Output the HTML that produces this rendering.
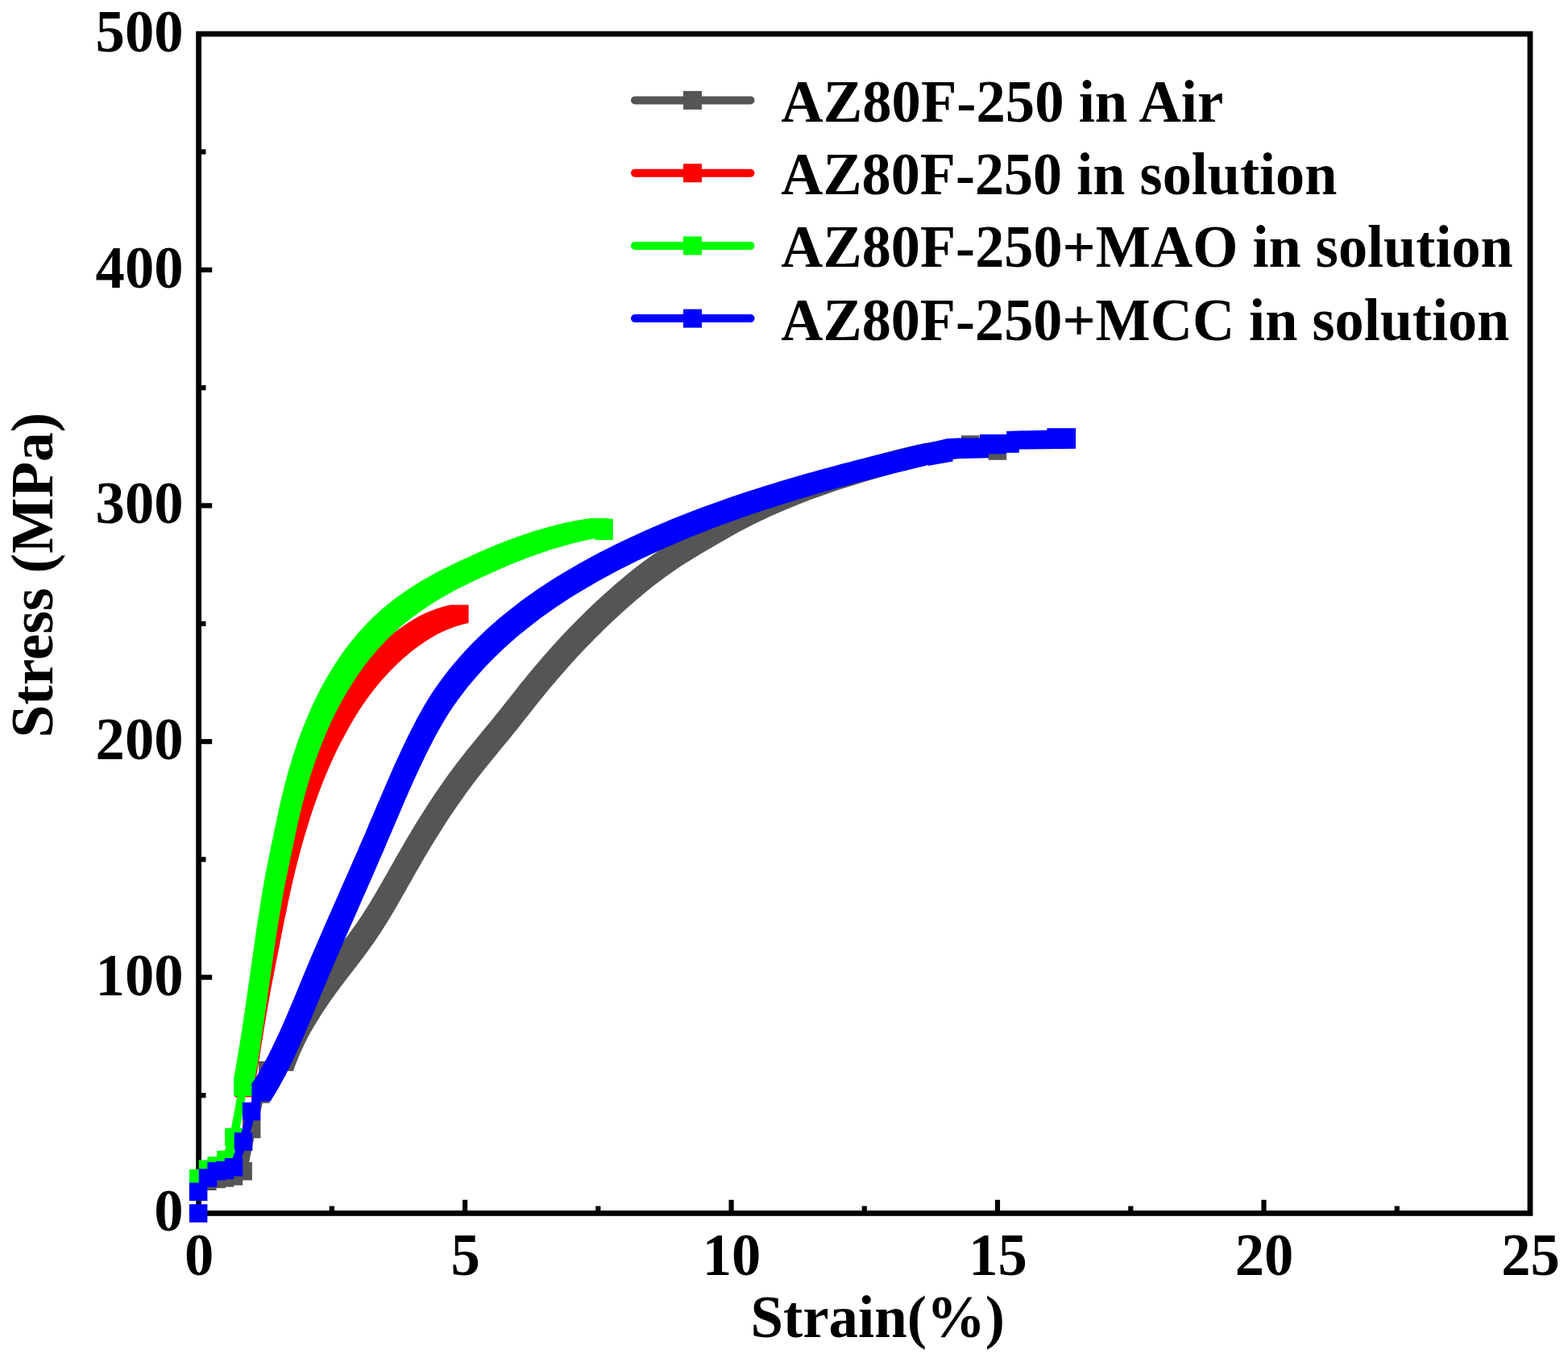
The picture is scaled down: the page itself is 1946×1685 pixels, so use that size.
<!DOCTYPE html>
<html lang="en"><head><meta charset="utf-8"><title>Stress-strain curves of AZ80F-250</title>
<style>
html,body{margin:0;padding:0;background:#fff}
body{width:1946px;height:1685px;overflow:hidden}
svg{display:block}
text{font-family:"Liberation Serif","DejaVu Serif",serif;font-weight:bold;fill:#000}
.ax{stroke:#000;fill:none}
</style></head><body>
<svg width="1946" height="1685" viewBox="0 0 1946 1685" role="img" aria-label="Stress-strain curves">
<rect width="1946" height="1685" fill="#fff"/>
<g class="ax" stroke-width="6.2">
<path d="M411.8,1502v-5.5M577.1,1502v-13.2M742.3,1502v-5.5M907.6,1502v-13.2M1072.8,1502v-5.5M1238,1502v-13.2M1403.3,1502v-5.5M1568.5,1502v-13.2M1733.8,1502v-5.5M250,1359.1h5.5M250,1212.7h13.2M250,1066.4h5.5M250,920.1h13.2M250,773.8h5.5M250,627.4h13.2M250,481.1h5.5M250,334.8h13.2M250,188.4h5.5"/>
</g>
<rect class="ax" x="246.6" y="42.1" width="1652.4" height="1463.3" stroke-width="6.8"/>
<g fill="#555555" stroke="none">
<path d="M341.5,1329.1L341.5,1306.6L344,1299.3L366.5,1299.3L366.5,1321.8L364,1329.1ZM344,1321.8L344,1299.3L346.8,1292.2L369.3,1292.2L369.3,1314.7L366.5,1321.8ZM346.8,1314.7L346.8,1292.2L349.8,1285.1L372.3,1285.1L372.3,1307.6L369.3,1314.7ZM349.8,1307.6L349.8,1285.1L352.9,1278.2L375.4,1278.2L375.4,1300.7L372.3,1307.6ZM352.9,1300.7L352.9,1278.2L356.2,1271.3L378.7,1271.3L378.7,1293.8L375.4,1300.7ZM356.2,1293.8L356.2,1271.3L359.6,1264.6L382.1,1264.6L382.1,1287.1L378.7,1293.8ZM359.6,1287.1L359.6,1264.6L363.2,1257.9L385.7,1257.9L385.7,1280.4L382.1,1287.1ZM363.2,1280.4L363.2,1257.9L367,1251.4L389.5,1251.4L389.5,1273.9L385.7,1280.4ZM367,1273.9L367,1251.4L370.9,1244.9L393.4,1244.9L393.4,1267.4L389.5,1273.9ZM370.9,1267.4L370.9,1244.9L374.9,1238.5L397.4,1238.5L397.4,1261L393.4,1267.4ZM374.9,1261L374.9,1238.5L379,1232.1L401.5,1232.1L401.5,1254.6L397.4,1261ZM379,1254.6L379,1232.1L383.2,1225.8L405.7,1225.8L405.7,1248.3L401.5,1254.6ZM383.2,1248.3L383.2,1225.8L387.5,1219.6L410,1219.6L410,1242.1L405.7,1248.3ZM387.5,1242.1L387.5,1219.6L391.8,1213.5L414.3,1213.5L414.3,1236L410,1242.1ZM391.8,1236L391.8,1213.5L396.3,1207.3L418.8,1207.3L418.8,1229.8L414.3,1236ZM396.3,1229.8L396.3,1207.3L400.8,1201.3L423.3,1201.3L423.3,1223.8L418.8,1229.8ZM400.8,1223.8L400.8,1201.3L405.3,1195.3L427.8,1195.3L427.8,1217.8L423.3,1223.8ZM405.3,1217.8L405.3,1195.3L409.9,1189.3L432.4,1189.3L432.4,1211.8L427.8,1217.8ZM409.9,1211.8L409.9,1189.3L414.6,1183.3L437.1,1183.3L437.1,1205.8L432.4,1211.8ZM414.6,1205.8L414.6,1183.3L419.2,1177.3L441.7,1177.3L441.7,1199.8L437.1,1205.8ZM419.2,1199.8L419.2,1177.3L423.8,1171.3L446.3,1171.3L446.3,1193.8L441.7,1199.8ZM423.8,1193.8L423.8,1171.3L428.3,1165.3L450.8,1165.3L450.8,1187.8L446.3,1193.8ZM428.3,1187.8L428.3,1165.3L432.8,1159.3L455.3,1159.3L455.3,1181.8L450.8,1187.8ZM432.8,1181.8L432.8,1159.3L437.2,1153.1L459.7,1153.1L459.7,1175.6L455.3,1181.8ZM437.2,1175.6L437.2,1153.1L441.6,1147L464.1,1147L464.1,1169.5L459.7,1175.6ZM441.6,1169.5L441.6,1147L445.8,1140.7L468.3,1140.7L468.3,1163.2L464.1,1169.5ZM445.8,1163.2L445.8,1140.7L450,1134.4L472.5,1134.4L472.5,1156.9L468.3,1163.2ZM450,1156.9L450,1134.4L454.1,1128.1L476.6,1128.1L476.6,1150.6L472.5,1156.9ZM454.1,1150.6L454.1,1128.1L458.1,1121.7L480.6,1121.7L480.6,1144.2L476.6,1150.6ZM458.1,1144.2L458.1,1121.7L462,1115.2L484.5,1115.2L484.5,1137.7L480.6,1144.2ZM462,1137.7L462,1115.2L465.9,1108.7L488.4,1108.7L488.4,1131.2L484.5,1137.7ZM465.9,1131.2L465.9,1108.7L469.7,1102.2L492.2,1102.2L492.2,1124.7L488.4,1131.2ZM469.7,1124.7L469.7,1102.2L473.5,1095.6L496,1095.6L496,1118.1L492.2,1124.7ZM473.5,1118.1L473.5,1095.6L477.2,1089L499.7,1089L499.7,1111.5L496,1118.1ZM477.2,1111.5L477.2,1089L481,1082.4L503.5,1082.4L503.5,1104.9L499.7,1111.5ZM481,1104.9L481,1082.4L484.7,1075.8L507.2,1075.8L507.2,1098.3L503.5,1104.9ZM484.7,1098.3L484.7,1075.8L488.5,1069.2L511,1069.2L511,1091.7L507.2,1098.3ZM488.5,1091.7L488.5,1069.2L492.2,1062.6L514.7,1062.6L514.7,1085.1L511,1091.7ZM492.2,1085.1L492.2,1062.6L496,1056L518.5,1056L518.5,1078.5L514.7,1085.1ZM496,1078.5L496,1056L499.8,1049.4L522.3,1049.4L522.3,1071.9L518.5,1078.5ZM499.8,1071.9L499.8,1049.4L503.6,1042.8L526.1,1042.8L526.1,1065.3L522.3,1071.9ZM503.6,1065.3L503.6,1042.8L507.5,1036.3L530,1036.3L530,1058.8L526.1,1065.3ZM507.5,1058.8L507.5,1036.3L511.4,1029.8L533.9,1029.8L533.9,1052.3L530,1058.8ZM511.4,1052.3L511.4,1029.8L515.3,1023.3L537.8,1023.3L537.8,1045.8L533.9,1052.3ZM515.3,1045.8L515.3,1023.3L519.3,1016.8L541.8,1016.8L541.8,1039.3L537.8,1045.8ZM519.3,1039.3L519.3,1016.8L523.3,1010.4L545.8,1010.4L545.8,1032.9L541.8,1039.3ZM523.3,1032.9L523.3,1010.4L527.4,1004L549.9,1004L549.9,1026.5L545.8,1032.9ZM527.4,1026.5L527.4,1004L531.5,997.6L554,997.6L554,1020.1L549.9,1026.5ZM531.5,1020.1L531.5,997.6L535.6,991.2L558.1,991.2L558.1,1013.7L554,1020.1ZM535.6,1013.7L535.6,991.2L539.8,984.9L562.3,984.9L562.3,1007.4L558.1,1013.7ZM539.8,1007.4L539.8,984.9L544.1,978.7L566.6,978.7L566.6,1001.2L562.3,1007.4ZM544.1,1001.2L544.1,978.7L548.4,972.4L570.9,972.4L570.9,994.9L566.6,1001.2ZM548.4,994.9L548.4,972.4L552.8,966.2L575.3,966.2L575.3,988.7L570.9,994.9ZM552.8,988.7L552.8,966.2L557.2,960.1L579.7,960.1L579.7,982.6L575.3,988.7ZM557.2,982.6L557.2,960.1L561.7,954L584.2,954L584.2,976.5L579.7,982.6ZM561.7,976.5L561.7,954L566.2,947.9L588.7,947.9L588.7,970.4L584.2,976.5ZM566.2,970.4L566.2,947.9L570.8,941.9L593.3,941.9L593.3,964.4L588.7,970.4ZM570.8,964.4L570.8,941.9L575.5,936L598,936L598,958.5L593.3,964.4ZM575.5,958.5L575.5,936L580.2,930.1L602.7,930.1L602.7,952.6L598,958.5ZM580.2,952.6L580.2,930.1L585,924.2L607.5,924.2L607.5,946.7L602.7,952.6ZM585,946.7L585,924.2L589.8,918.3L612.3,918.3L612.3,940.8L607.5,946.7ZM589.8,940.8L589.8,918.3L594.6,912.4L617.1,912.4L617.1,934.9L612.3,940.8ZM594.6,934.9L594.6,912.4L599.4,906.6L621.9,906.6L621.9,929.1L617.1,934.9ZM599.4,929.1L599.4,906.6L604.2,900.8L626.7,900.8L626.7,923.3L621.9,929.1ZM604.2,923.3L604.2,900.8L609,894.9L631.5,894.9L631.5,917.4L626.7,923.3ZM609,917.4L609,894.9L613.8,889.1L636.3,889.1L636.3,911.6L631.5,917.4ZM613.8,911.6L613.8,889.1L618.5,883.2L641,883.2L641,905.7L636.3,911.6ZM618.5,905.7L618.5,883.2L623.3,877.2L645.8,877.2L645.8,899.7L641,905.7ZM623.3,899.7L623.3,877.2L627.9,871.3L650.4,871.3L650.4,893.8L645.8,899.7ZM627.9,893.8L627.9,871.3L632.6,865.4L655.1,865.4L655.1,887.9L650.4,893.8ZM632.6,887.9L632.6,865.4L637.3,859.4L659.8,859.4L659.8,881.9L655.1,887.9ZM637.3,881.9L637.3,859.4L642,853.5L664.5,853.5L664.5,876L659.8,881.9ZM642,876L642,853.5L646.7,847.6L669.2,847.6L669.2,870.1L664.5,876ZM646.7,870.1L646.7,847.6L651.5,841.7L674,841.7L674,864.2L669.2,870.1ZM651.5,864.2L651.5,841.7L656.3,835.8L678.8,835.8L678.8,858.3L674,864.2ZM656.3,858.3L656.3,835.8L661.1,830L683.6,830L683.6,852.5L678.8,858.3ZM661.1,852.5L661.1,830L666,824.2L688.5,824.2L688.5,846.7L683.6,852.5ZM666,846.7L666,824.2L670.9,818.4L693.4,818.4L693.4,840.9L688.5,846.7ZM670.9,840.9L670.9,818.4L675.9,812.7L698.4,812.7L698.4,835.2L693.4,840.9ZM675.9,835.2L675.9,812.7L681,807L703.5,807L703.5,829.5L698.4,835.2ZM681,829.5L681,807L686,801.3L708.5,801.3L708.5,823.8L703.5,829.5ZM686,823.8L686,801.3L691.1,795.7L713.6,795.7L713.6,818.2L708.5,823.8ZM691.1,818.2L691.1,795.7L696.3,790.1L718.8,790.1L718.8,812.6L713.6,818.2ZM696.3,812.6L696.3,790.1L701.5,784.6L724,784.6L724,807.1L718.8,812.6ZM701.5,807.1L701.5,784.6L706.8,779.1L729.3,779.1L729.3,801.6L724,807.1ZM706.8,801.6L706.8,779.1L712.1,773.7L734.6,773.7L734.6,796.2L729.3,801.6ZM712.1,796.2L712.1,773.7L717.4,768.3L739.9,768.3L739.9,790.8L734.6,796.2ZM717.4,790.8L717.4,768.3L722.8,762.9L745.3,762.9L745.3,785.4L739.9,790.8ZM722.8,785.4L722.8,762.9L728.2,757.6L750.7,757.6L750.7,780.1L745.3,785.4ZM728.2,780.1L728.2,757.6L733.7,752.3L756.2,752.3L756.2,774.8L750.7,780.1ZM733.7,774.8L733.7,752.3L739.2,747.1L761.7,747.1L761.7,769.6L756.2,774.8ZM739.2,769.6L739.2,747.1L744.8,741.9L767.3,741.9L767.3,764.4L761.7,769.6ZM744.8,764.4L744.8,741.9L750.4,736.8L772.9,736.8L772.9,759.3L767.3,764.4ZM750.4,759.3L750.4,736.8L756.1,731.8L778.6,731.8L778.6,754.3L772.9,759.3ZM756.1,754.3L756.1,731.8L761.7,726.7L784.2,726.7L784.2,749.2L778.6,754.3ZM761.7,749.2L761.7,726.7L767.5,721.8L790,721.8L790,744.3L784.2,749.2ZM767.5,744.3L767.5,721.8L773.3,716.9L795.8,716.9L795.8,739.4L790,744.3ZM773.3,739.4L773.3,716.9L779.1,712.1L801.6,712.1L801.6,734.6L795.8,739.4ZM779.1,734.6L779.1,712.1L785,707.3L807.5,707.3L807.5,729.8L801.6,734.6ZM785,729.8L785,707.3L791,702.6L813.5,702.6L813.5,725.1L807.5,729.8ZM791,725.1L791,702.6L797,698.1L819.5,698.1L819.5,720.6L813.5,725.1ZM797,720.6L797,698.1L803.1,693.6L825.6,693.6L825.6,716.1L819.5,720.6ZM803.1,716.1L803.1,693.6L809.2,689.2L831.7,689.2L831.7,711.7L825.6,716.1ZM809.2,711.7L809.2,689.2L815.5,684.8L838,684.8L838,707.3L831.7,711.7ZM815.5,707.3L815.5,684.8L821.7,680.6L844.2,680.6L844.2,703.1L838,707.3ZM821.7,703.1L821.7,680.6L828.1,676.5L850.6,676.5L850.6,699L844.2,703.1ZM828.1,699L828.1,676.5L834.5,672.5L857,672.5L857,695L850.6,699ZM834.5,695L834.5,672.5L841,668.5L863.5,668.5L863.5,691L857,695ZM841,691L841,668.5L847.5,664.6L870,664.6L870,687.1L863.5,691ZM847.5,687.1L847.5,664.6L854,660.7L876.5,660.7L876.5,683.2L870,687.1ZM854,683.2L854,660.7L860.6,656.9L883.1,656.9L883.1,679.4L876.5,683.2ZM860.6,679.4L860.6,656.9L867.2,653.1L889.7,653.1L889.7,675.6L883.1,679.4ZM867.2,675.6L867.2,653.1L873.8,649.3L896.3,649.3L896.3,671.8L889.7,675.6ZM873.8,671.8L873.8,649.3L880.4,645.5L902.9,645.5L902.9,668L896.3,671.8ZM880.4,668L880.4,645.5L887,641.8L909.5,641.8L909.5,664.3L902.9,668ZM887,664.3L887,641.8L893.7,638.1L916.2,638.1L916.2,660.6L909.5,664.3ZM893.7,660.6L893.7,638.1L900.4,634.6L922.9,634.6L922.9,657.1L916.2,660.6ZM900.4,657.1L900.4,634.6L907.1,631L929.6,631L929.6,653.5L922.9,657.1ZM907.1,653.5L907.1,631L913.9,627.6L936.4,627.6L936.4,650.1L929.6,653.5ZM913.9,650.1L913.9,627.6L920.7,624.3L943.2,624.3L943.2,646.8L936.4,650.1ZM920.7,646.8L920.7,624.3L927.6,621L950.1,621L950.1,643.5L943.2,646.8ZM927.6,643.5L927.6,621L934.4,617.8L956.9,617.8L956.9,640.3L950.1,643.5ZM934.4,640.3L934.4,617.8L941.4,614.7L963.9,614.7L963.9,637.2L956.9,640.3ZM941.4,637.2L941.4,614.7L948.3,611.7L970.8,611.7L970.8,634.2L963.9,637.2ZM948.3,634.2L948.3,611.7L955.3,608.7L977.8,608.7L977.8,631.2L970.8,634.2ZM955.3,631.2L955.3,608.7L962.3,605.9L984.8,605.9L984.8,628.4L977.8,631.2ZM962.3,628.4L962.3,605.9L969.3,603.1L991.8,603.1L991.8,625.6L984.8,628.4ZM969.3,625.6L969.3,603.1L976.4,600.3L998.9,600.3L998.9,622.8L991.8,625.6ZM976.4,622.8L976.4,600.3L983.4,597.6L1005.9,597.6L1005.9,620.1L998.9,622.8ZM983.4,620.1L983.4,597.6L990.6,595L1013.1,595L1013.1,617.5L1005.9,620.1ZM990.6,617.5L990.6,595L997.7,592.5L1020.2,592.5L1020.2,615L1013.1,617.5ZM997.7,615L997.7,592.5L1004.8,590L1027.3,590L1027.3,612.5L1020.2,615ZM1004.8,612.5L1004.8,590L1012,587.5L1034.5,587.5L1034.5,610L1027.3,612.5ZM1012,610L1012,587.5L1019.2,585.1L1041.7,585.1L1041.7,607.6L1034.5,610ZM1019.2,607.6L1019.2,585.1L1026.4,582.8L1048.9,582.8L1048.9,605.3L1041.7,607.6ZM1026.4,605.3L1026.4,582.8L1033.7,580.5L1056.2,580.5L1056.2,603L1048.9,605.3ZM1033.7,603L1033.7,580.5L1040.9,578.2L1063.4,578.2L1063.4,600.7L1056.2,603ZM1040.9,600.7L1040.9,578.2L1048.2,576L1070.7,576L1070.7,598.5L1063.4,600.7ZM1048.2,598.5L1048.2,576L1055.5,573.8L1078,573.8L1078,596.3L1070.7,598.5ZM1055.5,596.3L1055.5,573.8L1062.7,571.7L1085.2,571.7L1085.2,594.2L1078,596.3ZM1062.7,594.2L1062.7,571.7L1070.1,569.6L1092.6,569.6L1092.6,592.1L1085.2,594.2ZM1070.1,592.1L1070.1,569.6L1077.4,567.5L1099.9,567.5L1099.9,590L1092.6,592.1ZM1077.4,590L1077.4,567.5L1084.7,565.4L1107.2,565.4L1107.2,587.9L1099.9,590ZM1084.7,587.9L1084.7,565.4L1092,563.4L1114.5,563.4L1114.5,585.9L1107.2,587.9ZM1092,585.9L1092,563.4L1099.4,561.4L1121.9,561.4L1121.9,583.9L1114.5,585.9ZM1099.4,583.9L1099.4,561.4L1106.7,559.5L1129.2,559.5L1129.2,582L1121.9,583.9ZM1106.7,582L1106.7,559.5L1114.1,557.6L1136.6,557.6L1136.6,580.1L1129.2,582ZM1114.1,580.1L1114.1,557.6L1121.5,555.8L1144,555.8L1144,578.3L1136.6,580.1ZM1121.5,578.3L1121.5,555.8L1128.9,554L1151.4,554L1151.4,576.5L1144,578.3ZM1128.9,576.5L1128.9,554L1136.3,552.3L1158.8,552.3L1158.8,574.8L1151.4,576.5ZM1136.3,574.8L1136.3,552.3L1143.7,550.8L1166.2,550.8L1166.2,573.3L1158.8,574.8ZM1143.7,573.3L1143.7,550.8L1151.1,549.3L1173.6,549.3L1173.6,571.8L1166.2,573.3ZM1151.1,571.8L1151.1,549.3L1158.6,548L1181.1,548L1181.1,570.5L1173.6,571.8ZM1158.6,570.5L1158.6,548L1166.1,546.8L1188.6,546.8L1188.6,569.3L1181.1,570.5ZM1166.1,569.3L1166.1,546.8L1173.5,545.8L1196,545.8L1196,568.3L1188.6,569.3ZM1173.5,568.3L1173.5,545.8L1181,544.9L1203.5,544.9L1203.5,567.4L1196,568.3ZM1181,567.4L1181,544.9L1188.6,544.2L1211.1,544.2L1211.1,566.7L1203.5,567.4ZM1188.6,566.7L1188.6,544.2L1196.1,543.7L1218.6,543.7L1218.6,566.2L1211.1,566.7ZM1196.1,566.2L1196.1,543.7L1203.7,543.3L1226.2,543.3L1226.2,565.8L1218.6,566.2Z"/>
<path d="M246.1,1454.5h22.5v22.5h-22.5ZM257.4,1451.8h22.5v22.5h-22.5ZM267.8,1450.2h22.5v22.5h-22.5ZM278.6,1448.2h22.5v22.5h-22.5ZM290.4,1442h22.5v22.5h-22.5ZM300.9,1389.8h22.5v22.5h-22.5ZM312.1,1346.2h22.5v22.5h-22.5ZM321.1,1316.8h22.5v22.5h-22.5ZM332.1,1312.5h22.5v22.5h-22.5ZM340.8,1306.2h22.5v22.5h-22.5ZM1193,540.3h22.5v22.5h-22.5ZM1226.7,548.2h22.5v22.5h-22.5Z"/>
<path d="M257.4,1465.8L268.6,1463L279,1461.5L289.8,1459.5L301.6,1453.3L312.2,1401L323.4,1357.4L332.4,1328L343.3,1323.7L352,1317.4" fill="none" stroke="#555555" stroke-width="10.5" stroke-linejoin="round"/>
</g>
<g fill="#ff0000" stroke="none">
<path d="M291.5,1361.3L291.5,1338.8L292.9,1330.3L315.4,1330.3L315.4,1352.8L314,1361.3ZM292.9,1352.8L292.9,1330.3L294.3,1321.8L316.8,1321.8L316.8,1344.3L315.4,1352.8ZM294.3,1344.3L294.3,1321.8L295.7,1313.3L318.2,1313.3L318.2,1335.8L316.8,1344.3ZM295.7,1335.8L295.7,1313.3L297.1,1304.8L319.6,1304.8L319.6,1327.3L318.2,1335.8ZM297.1,1327.3L297.1,1304.8L298.4,1296.3L320.9,1296.3L320.9,1318.8L319.6,1327.3ZM298.4,1318.8L298.4,1296.3L299.8,1287.9L322.3,1287.9L322.3,1310.4L320.9,1318.8ZM299.8,1310.4L299.8,1287.9L301.1,1279.4L323.6,1279.4L323.6,1301.9L322.3,1310.4ZM301.1,1301.9L301.1,1279.4L302.5,1270.9L325,1270.9L325,1293.4L323.6,1301.9ZM302.5,1293.4L302.5,1270.9L303.9,1262.4L326.4,1262.4L326.4,1284.9L325,1293.4ZM303.9,1284.9L303.9,1262.4L305.2,1253.9L327.7,1253.9L327.7,1276.4L326.4,1284.9ZM305.2,1276.4L305.2,1253.9L306.6,1245.4L329.1,1245.4L329.1,1267.9L327.7,1276.4ZM306.6,1267.9L306.6,1245.4L308.1,1236.9L330.6,1236.9L330.6,1259.4L329.1,1267.9ZM308.1,1259.4L308.1,1236.9L309.5,1228.4L332,1228.4L332,1250.9L330.6,1259.4ZM309.5,1250.9L309.5,1228.4L311,1219.9L333.5,1219.9L333.5,1242.4L332,1250.9ZM311,1242.4L311,1219.9L312.6,1211.5L335.1,1211.5L335.1,1234L333.5,1242.4ZM312.6,1234L312.6,1211.5L314.1,1203L336.6,1203L336.6,1225.5L335.1,1234ZM314.1,1225.5L314.1,1203L315.7,1194.6L338.2,1194.6L338.2,1217.1L336.6,1225.5ZM315.7,1217.1L315.7,1194.6L317.4,1186.1L339.9,1186.1L339.9,1208.6L338.2,1217.1ZM317.4,1208.6L317.4,1186.1L319,1177.7L341.5,1177.7L341.5,1200.2L339.9,1208.6ZM319,1200.2L319,1177.7L320.6,1169.3L343.1,1169.3L343.1,1191.8L341.5,1200.2ZM320.6,1191.8L320.6,1169.3L322.3,1160.9L344.8,1160.9L344.8,1183.4L343.1,1191.8ZM322.3,1183.4L322.3,1160.9L324,1152.4L346.5,1152.4L346.5,1174.9L344.8,1183.4ZM324,1174.9L324,1152.4L325.6,1144L348.1,1144L348.1,1166.5L346.5,1174.9ZM325.6,1166.5L325.6,1144L327.3,1135.6L349.8,1135.6L349.8,1158.1L348.1,1166.5ZM327.3,1158.1L327.3,1135.6L328.9,1127.2L351.4,1127.2L351.4,1149.7L349.8,1158.1ZM328.9,1149.7L328.9,1127.2L330.6,1118.8L353.1,1118.8L353.1,1141.3L351.4,1149.7ZM330.6,1141.3L330.6,1118.8L332.4,1110.4L354.9,1110.4L354.9,1132.9L353.1,1141.3ZM332.4,1132.9L332.4,1110.4L334.1,1102L356.6,1102L356.6,1124.5L354.9,1132.9ZM334.1,1124.5L334.1,1102L335.9,1093.6L358.4,1093.6L358.4,1116.1L356.6,1124.5ZM335.9,1116.1L335.9,1093.6L337.7,1085.2L360.2,1085.2L360.2,1107.7L358.4,1116.1ZM337.7,1107.7L337.7,1085.2L339.6,1076.8L362.1,1076.8L362.1,1099.3L360.2,1107.7ZM339.6,1099.3L339.6,1076.8L341.5,1068.4L364,1068.4L364,1090.9L362.1,1099.3ZM341.5,1090.9L341.5,1068.4L343.5,1060L366,1060L366,1082.5L364,1090.9ZM343.5,1082.5L343.5,1060L345.6,1051.6L368.1,1051.6L368.1,1074.1L366,1082.5ZM345.6,1074.1L345.6,1051.6L347.7,1043.3L370.2,1043.3L370.2,1065.8L368.1,1074.1ZM347.7,1065.8L347.7,1043.3L349.9,1034.9L372.4,1034.9L372.4,1057.4L370.2,1065.8ZM349.9,1057.4L349.9,1034.9L352.2,1026.6L374.7,1026.6L374.7,1049.1L372.4,1057.4ZM352.2,1049.1L352.2,1026.6L354.5,1018.2L377,1018.2L377,1040.7L374.7,1049.1ZM354.5,1040.7L354.5,1018.2L357,1009.9L379.5,1009.9L379.5,1032.4L377,1040.7ZM357,1032.4L357,1009.9L359.5,1001.7L382,1001.7L382,1024.2L379.5,1032.4ZM359.5,1024.2L359.5,1001.7L362.1,993.4L384.6,993.4L384.6,1015.9L382,1024.2ZM362.1,1015.9L362.1,993.4L364.7,985.2L387.2,985.2L387.2,1007.7L384.6,1015.9ZM364.7,1007.7L364.7,985.2L367.5,977.1L390,977.1L390,999.6L387.2,1007.7ZM367.5,999.6L367.5,977.1L370.4,968.9L392.9,968.9L392.9,991.4L390,999.6ZM370.4,991.4L370.4,968.9L373.3,960.8L395.8,960.8L395.8,983.3L392.9,991.4ZM373.3,983.3L373.3,960.8L376.4,952.8L398.9,952.8L398.9,975.3L395.8,983.3ZM376.4,975.3L376.4,952.8L379.5,944.8L402,944.8L402,967.3L398.9,975.3ZM379.5,967.3L379.5,944.8L382.8,936.8L405.3,936.8L405.3,959.3L402,967.3ZM382.8,959.3L382.8,936.8L386.2,928.9L408.7,928.9L408.7,951.4L405.3,959.3ZM386.2,951.4L386.2,928.9L389.7,921.1L412.2,921.1L412.2,943.6L408.7,951.4ZM389.7,943.6L389.7,921.1L393.3,913.3L415.8,913.3L415.8,935.8L412.2,943.6ZM393.3,935.8L393.3,913.3L397,905.6L419.5,905.6L419.5,928.1L415.8,935.8ZM397,928.1L397,905.6L400.9,898L423.4,898L423.4,920.5L419.5,928.1ZM400.9,920.5L400.9,898L404.9,890.4L427.4,890.4L427.4,912.9L423.4,920.5ZM404.9,912.9L404.9,890.4L409,882.9L431.5,882.9L431.5,905.4L427.4,912.9ZM409,905.4L409,882.9L413.2,875.4L435.7,875.4L435.7,897.9L431.5,905.4ZM413.2,897.9L413.2,875.4L417.6,868.1L440.1,868.1L440.1,890.6L435.7,897.9ZM417.6,890.6L417.6,868.1L422.1,860.8L444.6,860.8L444.6,883.3L440.1,890.6ZM422.1,883.3L422.1,860.8L426.8,853.6L449.3,853.6L449.3,876.1L444.6,883.3ZM426.8,876.1L426.8,853.6L431.7,846.6L454.2,846.6L454.2,869.1L449.3,876.1ZM431.7,869.1L431.7,846.6L436.8,839.6L459.3,839.6L459.3,862.1L454.2,869.1ZM436.8,862.1L436.8,839.6L442,832.8L464.5,832.8L464.5,855.3L459.3,862.1ZM442,855.3L442,832.8L447.4,826.1L469.9,826.1L469.9,848.6L464.5,855.3ZM447.4,848.6L447.4,826.1L453,819.6L475.5,819.6L475.5,842.1L469.9,848.6ZM453,842.1L453,819.6L458.8,813.2L481.3,813.2L481.3,835.7L475.5,842.1ZM458.8,835.7L458.8,813.2L464.8,807L487.3,807L487.3,829.5L481.3,835.7ZM464.8,829.5L464.8,807L470.9,801L493.4,801L493.4,823.5L487.3,829.5ZM470.9,823.5L470.9,801L477.3,795.1L499.8,795.1L499.8,817.6L493.4,823.5ZM477.3,817.6L477.3,795.1L483.8,789.5L506.3,789.5L506.3,812L499.8,817.6ZM483.8,812L483.8,789.5L490.5,784L513,784L513,806.5L506.3,812ZM490.5,806.5L490.5,784L497.4,778.9L519.9,778.9L519.9,801.4L513,806.5ZM497.4,801.4L497.4,778.9L504.5,773.9L527,773.9L527,796.4L519.9,801.4ZM504.5,796.4L504.5,773.9L511.7,769.4L534.2,769.4L534.2,791.9L527,796.4ZM511.7,791.9L511.7,769.4L519.2,765.1L541.7,765.1L541.7,787.6L534.2,791.9ZM519.2,787.6L519.2,765.1L526.8,761.3L549.3,761.3L549.3,783.8L541.7,787.6ZM526.8,783.8L526.8,761.3L534.6,757.9L557.1,757.9L557.1,780.4L549.3,783.8ZM534.6,780.4L534.6,757.9L542.6,754.9L565.1,754.9L565.1,777.4L557.1,780.4ZM542.6,777.4L542.6,754.9L550.8,752.5L573.3,752.5L573.3,775L565.1,777.4ZM550.8,775L550.8,752.5L559.1,750.6L581.6,750.6L581.6,773.1L573.3,775Z"/>
</g>
<g fill="#00ff00" stroke="none">
<path d="M290.2,1359.8L290.2,1337.3L291.9,1328.3L314.4,1328.3L314.4,1350.8L312.7,1359.8ZM291.9,1350.8L291.9,1328.3L293.5,1319.2L316,1319.2L316,1341.7L314.4,1350.8ZM293.5,1341.7L293.5,1319.2L295,1310.1L317.5,1310.1L317.5,1332.6L316,1341.7ZM295,1332.6L295,1310.1L296.5,1301.1L319,1301.1L319,1323.6L317.5,1332.6ZM296.5,1323.6L296.5,1301.1L298,1292L320.5,1292L320.5,1314.5L319,1323.6ZM298,1314.5L298,1292L299.4,1282.9L321.9,1282.9L321.9,1305.4L320.5,1314.5ZM299.4,1305.4L299.4,1282.9L300.8,1273.8L323.3,1273.8L323.3,1296.3L321.9,1305.4ZM300.8,1296.3L300.8,1273.8L302.2,1264.8L324.7,1264.8L324.7,1287.3L323.3,1296.3ZM302.2,1287.3L302.2,1264.8L303.6,1255.7L326.1,1255.7L326.1,1278.2L324.7,1287.3ZM303.6,1278.2L303.6,1255.7L304.9,1246.6L327.4,1246.6L327.4,1269.1L326.1,1278.2ZM304.9,1269.1L304.9,1246.6L306.2,1237.5L328.7,1237.5L328.7,1260L327.4,1269.1ZM306.2,1260L306.2,1237.5L307.5,1228.4L330,1228.4L330,1250.9L328.7,1260ZM307.5,1250.9L307.5,1228.4L308.8,1219.3L331.3,1219.3L331.3,1241.8L330,1250.9ZM308.8,1241.8L308.8,1219.3L310.1,1210.2L332.6,1210.2L332.6,1232.7L331.3,1241.8ZM310.1,1232.7L310.1,1210.2L311.4,1201.1L333.9,1201.1L333.9,1223.6L332.6,1232.7ZM311.4,1223.6L311.4,1201.1L312.7,1192L335.2,1192L335.2,1214.5L333.9,1223.6ZM312.7,1214.5L312.7,1192L314,1182.9L336.5,1182.9L336.5,1205.4L335.2,1214.5ZM314,1205.4L314,1182.9L315.3,1173.8L337.8,1173.8L337.8,1196.3L336.5,1205.4ZM315.3,1196.3L315.3,1173.8L316.6,1164.7L339.1,1164.7L339.1,1187.2L337.8,1196.3ZM316.6,1187.2L316.6,1164.7L317.9,1155.6L340.4,1155.6L340.4,1178.1L339.1,1187.2ZM317.9,1178.1L317.9,1155.6L319.2,1146.5L341.7,1146.5L341.7,1169L340.4,1178.1ZM319.2,1169L319.2,1146.5L320.6,1137.4L343.1,1137.4L343.1,1159.9L341.7,1169ZM320.6,1159.9L320.6,1137.4L322,1128.4L344.5,1128.4L344.5,1150.9L343.1,1159.9ZM322,1150.9L322,1128.4L323.5,1119.3L346,1119.3L346,1141.8L344.5,1150.9ZM323.5,1141.8L323.5,1119.3L324.9,1110.2L347.4,1110.2L347.4,1132.7L346,1141.8ZM324.9,1132.7L324.9,1110.2L326.5,1101.2L349,1101.2L349,1123.7L347.4,1132.7ZM326.5,1123.7L326.5,1101.2L328.1,1092.1L350.6,1092.1L350.6,1114.6L349,1123.7ZM328.1,1114.6L328.1,1092.1L329.7,1083.1L352.2,1083.1L352.2,1105.6L350.6,1114.6ZM329.7,1105.6L329.7,1083.1L331.5,1074L354,1074L354,1096.5L352.2,1105.6ZM331.5,1096.5L331.5,1074L333.3,1065L355.8,1065L355.8,1087.5L354,1096.5ZM333.3,1087.5L333.3,1065L335.1,1056L357.6,1056L357.6,1078.5L355.8,1087.5ZM335.1,1078.5L335.1,1056L337,1047L359.5,1047L359.5,1069.5L357.6,1078.5ZM337,1069.5L337,1047L338.9,1038.1L361.4,1038.1L361.4,1060.6L359.5,1069.5ZM338.9,1060.6L338.9,1038.1L340.8,1029.1L363.3,1029.1L363.3,1051.6L361.4,1060.6ZM340.8,1051.6L340.8,1029.1L342.7,1020.1L365.2,1020.1L365.2,1042.6L363.3,1051.6ZM342.7,1042.6L342.7,1020.1L344.6,1011.1L367.1,1011.1L367.1,1033.6L365.2,1042.6ZM344.6,1033.6L344.6,1011.1L346.5,1002.1L369,1002.1L369,1024.6L367.1,1033.6ZM346.5,1024.6L346.5,1002.1L348.5,993.2L371,993.2L371,1015.7L369,1024.6ZM348.5,1015.7L348.5,993.2L350.7,984.2L373.2,984.2L373.2,1006.7L371,1015.7ZM350.7,1006.7L350.7,984.2L352.9,975.3L375.4,975.3L375.4,997.8L373.2,1006.7ZM352.9,997.8L352.9,975.3L355.2,966.4L377.7,966.4L377.7,988.9L375.4,997.8ZM355.2,988.9L355.2,966.4L357.6,957.5L380.1,957.5L380.1,980L377.7,988.9ZM357.6,980L357.6,957.5L360.2,948.7L382.7,948.7L382.7,971.2L380.1,980ZM360.2,971.2L360.2,948.7L362.9,939.9L385.4,939.9L385.4,962.4L382.7,971.2ZM362.9,962.4L362.9,939.9L365.7,931.2L388.2,931.2L388.2,953.7L385.4,962.4ZM365.7,953.7L365.7,931.2L368.7,922.4L391.2,922.4L391.2,944.9L388.2,953.7ZM368.7,944.9L368.7,922.4L371.8,913.8L394.3,913.8L394.3,936.3L391.2,944.9ZM371.8,936.3L371.8,913.8L375,905.2L397.5,905.2L397.5,927.7L394.3,936.3ZM375,927.7L375,905.2L378.4,896.7L400.9,896.7L400.9,919.2L397.5,927.7ZM378.4,919.2L378.4,896.7L381.9,888.2L404.4,888.2L404.4,910.7L400.9,919.2ZM381.9,910.7L381.9,888.2L385.6,879.8L408.1,879.8L408.1,902.3L404.4,910.7ZM385.6,902.3L385.6,879.8L389.4,871.5L411.9,871.5L411.9,894L408.1,902.3ZM389.4,894L389.4,871.5L393.4,863.3L415.9,863.3L415.9,885.8L411.9,894ZM393.4,885.8L393.4,863.3L397.6,855.1L420.1,855.1L420.1,877.6L415.9,885.8ZM397.6,877.6L397.6,855.1L402,847L424.5,847L424.5,869.5L420.1,877.6ZM402,869.5L402,847L406.5,839.1L429,839.1L429,861.6L424.5,869.5ZM406.5,861.6L406.5,839.1L411.2,831.2L433.7,831.2L433.7,853.7L429,861.6ZM411.2,853.7L411.2,831.2L416.1,823.4L438.6,823.4L438.6,845.9L433.7,853.7ZM416.1,845.9L416.1,823.4L421.1,815.8L443.6,815.8L443.6,838.3L438.6,845.9ZM421.1,838.3L421.1,815.8L426.4,808.3L448.9,808.3L448.9,830.8L443.6,838.3ZM426.4,830.8L426.4,808.3L431.8,800.9L454.3,800.9L454.3,823.4L448.9,830.8ZM431.8,823.4L431.8,800.9L437.5,793.7L460,793.7L460,816.2L454.3,823.4ZM437.5,816.2L437.5,793.7L443.3,786.7L465.8,786.7L465.8,809.2L460,816.2ZM443.3,809.2L443.3,786.7L449.4,779.9L471.9,779.9L471.9,802.4L465.8,809.2ZM449.4,802.4L449.4,779.9L455.6,773.2L478.1,773.2L478.1,795.7L471.9,802.4ZM455.6,795.7L455.6,773.2L462.1,766.8L484.6,766.8L484.6,789.3L478.1,795.7ZM462.1,789.3L462.1,766.8L468.8,760.5L491.3,760.5L491.3,783L484.6,789.3ZM468.8,783L468.8,760.5L475.6,754.5L498.1,754.5L498.1,777L491.3,783ZM475.6,777L475.6,754.5L482.7,748.7L505.2,748.7L505.2,771.2L498.1,777ZM482.7,771.2L482.7,748.7L489.9,743.1L512.4,743.1L512.4,765.6L505.2,771.2ZM489.9,765.6L489.9,743.1L497.2,737.7L519.7,737.7L519.7,760.2L512.4,765.6ZM497.2,760.2L497.2,737.7L504.7,732.4L527.2,732.4L527.2,754.9L519.7,760.2ZM504.7,754.9L504.7,732.4L512.4,727.4L534.9,727.4L534.9,749.9L527.2,754.9ZM512.4,749.9L512.4,727.4L520.1,722.6L542.6,722.6L542.6,745.1L534.9,749.9ZM520.1,745.1L520.1,722.6L528,717.9L550.5,717.9L550.5,740.4L542.6,745.1ZM528,740.4L528,717.9L535.9,713.4L558.4,713.4L558.4,735.9L550.5,740.4ZM535.9,735.9L535.9,713.4L544,709.1L566.5,709.1L566.5,731.6L558.4,735.9ZM544,731.6L544,709.1L552.1,704.9L574.6,704.9L574.6,727.4L566.5,731.6ZM552.1,727.4L552.1,704.9L560.3,700.9L582.8,700.9L582.8,723.4L574.6,727.4ZM560.3,723.4L560.3,700.9L568.5,697L591,697L591,719.5L582.8,723.4ZM568.5,719.5L568.5,697L576.7,693.2L599.2,693.2L599.2,715.7L591,719.5ZM576.7,715.7L576.7,693.2L585,689.4L607.5,689.4L607.5,711.9L599.2,715.7ZM585,711.9L585,689.4L593.3,685.7L615.8,685.7L615.8,708.2L607.5,711.9ZM593.3,708.2L593.3,685.7L601.7,682.1L624.2,682.1L624.2,704.6L615.8,708.2ZM601.7,704.6L601.7,682.1L610,678.6L632.5,678.6L632.5,701.1L624.2,704.6ZM610,701.1L610,678.6L618.4,675.1L640.9,675.1L640.9,697.6L632.5,701.1ZM618.4,697.6L618.4,675.1L626.9,671.8L649.4,671.8L649.4,694.3L640.9,697.6ZM626.9,694.3L626.9,671.8L635.4,668.5L657.9,668.5L657.9,691L649.4,694.3ZM635.4,691L635.4,668.5L643.9,665.4L666.4,665.4L666.4,687.9L657.9,691ZM643.9,687.9L643.9,665.4L652.5,662.4L675,662.4L675,684.9L666.4,687.9ZM652.5,684.9L652.5,662.4L661.1,659.6L683.6,659.6L683.6,682.1L675,684.9ZM661.1,682.1L661.1,659.6L669.9,656.9L692.4,656.9L692.4,679.4L683.6,682.1ZM669.9,679.4L669.9,656.9L678.6,654.4L701.1,654.4L701.1,676.9L692.4,679.4ZM678.6,676.9L678.6,654.4L687.5,652L710,652L710,674.5L701.1,676.9ZM687.5,674.5L687.5,652L696.4,649.8L718.9,649.8L718.9,672.3L710,674.5ZM696.4,672.3L696.4,649.8L705.4,647.8L727.9,647.8L727.9,670.3L718.9,672.3ZM705.4,670.3L705.4,647.8L714.4,646L736.9,646L736.9,668.5L727.9,670.3ZM714.4,668.5L714.4,646L723.6,644.4L746.1,644.4L746.1,666.9L736.9,668.5ZM723.6,666.9L723.6,644.4L732.8,643L755.3,643L755.3,665.5L746.1,666.9Z"/>
<path d="M234.9,1450.8h22.5v22.5h-22.5ZM246.8,1439.5h22.5v22.5h-22.5ZM257.4,1435.2h22.5v22.5h-22.5ZM269.1,1427.8h22.5v22.5h-22.5ZM279.1,1399.7h22.5v22.5h-22.5ZM290.4,1337.3h22.5v22.5h-22.5ZM738.3,643.8h22.5v22.5h-22.5ZM738.3,647.6h22.5v22.5h-22.5Z"/>
<path d="M246.2,1462L258,1450.8L268.6,1446.4L280.4,1439L290.4,1410.9L301.6,1348.6" fill="none" stroke="#00ff00" stroke-width="10.5" stroke-linejoin="round"/>
</g>
<g fill="#0000ff" stroke="none">
<path d="M313.1,1366.5L313.1,1344L317.8,1336.5L340.3,1336.5L340.3,1359L335.6,1366.5ZM317.8,1359L317.8,1336.5L322.3,1328.9L344.8,1328.9L344.8,1351.4L340.3,1359ZM322.3,1351.4L322.3,1328.9L326.6,1321.2L349.1,1321.2L349.1,1343.7L344.8,1351.4ZM326.6,1343.7L326.6,1321.2L330.8,1313.4L353.3,1313.4L353.3,1335.9L349.1,1343.7ZM330.8,1335.9L330.8,1313.4L334.9,1305.5L357.4,1305.5L357.4,1328L353.3,1335.9ZM334.9,1328L334.9,1305.5L338.8,1297.6L361.3,1297.6L361.3,1320.1L357.4,1328ZM338.8,1320.1L338.8,1297.6L342.6,1289.6L365.1,1289.6L365.1,1312.1L361.3,1320.1ZM342.6,1312.1L342.6,1289.6L346.4,1281.5L368.9,1281.5L368.9,1304L365.1,1312.1ZM346.4,1304L346.4,1281.5L350,1273.4L372.5,1273.4L372.5,1295.9L368.9,1304ZM350,1295.9L350,1273.4L353.6,1265.3L376.1,1265.3L376.1,1287.8L372.5,1295.9ZM353.6,1287.8L353.6,1265.3L357.1,1257.1L379.6,1257.1L379.6,1279.6L376.1,1287.8ZM357.1,1279.6L357.1,1257.1L360.5,1248.9L383,1248.9L383,1271.4L379.6,1279.6ZM360.5,1271.4L360.5,1248.9L364,1240.7L386.5,1240.7L386.5,1263.2L383,1271.4ZM364,1263.2L364,1240.7L367.4,1232.5L389.9,1232.5L389.9,1255L386.5,1263.2ZM367.4,1255L367.4,1232.5L370.8,1224.2L393.3,1224.2L393.3,1246.7L389.9,1255ZM370.8,1246.7L370.8,1224.2L374.2,1216L396.7,1216L396.7,1238.5L393.3,1246.7ZM374.2,1238.5L374.2,1216L377.6,1207.8L400.1,1207.8L400.1,1230.3L396.7,1238.5ZM377.6,1230.3L377.6,1207.8L381,1199.5L403.5,1199.5L403.5,1222L400.1,1230.3ZM381,1222L381,1199.5L384.5,1191.3L407,1191.3L407,1213.8L403.5,1222ZM384.5,1213.8L384.5,1191.3L388,1183.1L410.5,1183.1L410.5,1205.6L407,1213.8ZM388,1205.6L388,1183.1L391.5,1175L414,1175L414,1197.5L410.5,1205.6ZM391.5,1197.5L391.5,1175L395,1166.8L417.5,1166.8L417.5,1189.3L414,1197.5ZM395,1189.3L395,1166.8L398.6,1158.6L421.1,1158.6L421.1,1181.1L417.5,1189.3ZM398.6,1181.1L398.6,1158.6L402.1,1150.5L424.6,1150.5L424.6,1173L421.1,1181.1ZM402.1,1173L402.1,1150.5L405.7,1142.3L428.2,1142.3L428.2,1164.8L424.6,1173ZM405.7,1164.8L405.7,1142.3L409.2,1134.2L431.7,1134.2L431.7,1156.7L428.2,1164.8ZM409.2,1156.7L409.2,1134.2L412.8,1126L435.3,1126L435.3,1148.5L431.7,1156.7ZM412.8,1148.5L412.8,1126L416.4,1117.9L438.9,1117.9L438.9,1140.4L435.3,1148.5ZM416.4,1140.4L416.4,1117.9L420,1109.8L442.5,1109.8L442.5,1132.3L438.9,1140.4ZM420,1132.3L420,1109.8L423.6,1101.6L446.1,1101.6L446.1,1124.1L442.5,1132.3ZM423.6,1124.1L423.6,1101.6L427.1,1093.5L449.6,1093.5L449.6,1116L446.1,1124.1ZM427.1,1116L427.1,1093.5L430.7,1085.4L453.2,1085.4L453.2,1107.9L449.6,1116ZM430.7,1107.9L430.7,1085.4L434.3,1077.2L456.8,1077.2L456.8,1099.7L453.2,1107.9ZM434.3,1099.7L434.3,1077.2L437.9,1069.1L460.4,1069.1L460.4,1091.6L456.8,1099.7ZM437.9,1091.6L437.9,1069.1L441.4,1060.9L463.9,1060.9L463.9,1083.4L460.4,1091.6ZM441.4,1083.4L441.4,1060.9L445,1052.8L467.5,1052.8L467.5,1075.3L463.9,1083.4ZM445,1075.3L445,1052.8L448.5,1044.6L471,1044.6L471,1067.1L467.5,1075.3ZM448.5,1067.1L448.5,1044.6L452.1,1036.5L474.6,1036.5L474.6,1059L471,1067.1ZM452.1,1059L452.1,1036.5L455.6,1028.3L478.1,1028.3L478.1,1050.8L474.6,1059ZM455.6,1050.8L455.6,1028.3L459,1020.1L481.5,1020.1L481.5,1042.6L478.1,1050.8ZM459,1042.6L459,1020.1L462.5,1011.9L485,1011.9L485,1034.4L481.5,1042.6ZM462.5,1034.4L462.5,1011.9L466,1003.8L488.5,1003.8L488.5,1026.3L485,1034.4ZM466,1026.3L466,1003.8L469.5,995.6L492,995.6L492,1018.1L488.5,1026.3ZM469.5,1018.1L469.5,995.6L473,987.4L495.5,987.4L495.5,1009.9L492,1018.1ZM473,1009.9L473,987.4L476.5,979.2L499,979.2L499,1001.7L495.5,1009.9ZM476.5,1001.7L476.5,979.2L480,971.1L502.5,971.1L502.5,993.6L499,1001.7ZM480,993.6L480,971.1L483.5,963L506,963L506,985.5L502.5,993.6ZM483.5,985.5L483.5,963L487.1,954.8L509.6,954.8L509.6,977.3L506,985.5ZM487.1,977.3L487.1,954.8L490.7,946.7L513.2,946.7L513.2,969.2L509.6,977.3ZM490.7,969.2L490.7,946.7L494.4,938.7L516.9,938.7L516.9,961.2L513.2,969.2ZM494.4,961.2L494.4,938.7L498.1,930.7L520.6,930.7L520.6,953.2L516.9,961.2ZM498.1,953.2L498.1,930.7L501.9,922.7L524.4,922.7L524.4,945.2L520.6,953.2ZM501.9,945.2L501.9,922.7L505.7,914.7L528.2,914.7L528.2,937.2L524.4,945.2ZM505.7,937.2L505.7,914.7L509.7,906.8L532.2,906.8L532.2,929.3L528.2,937.2ZM509.7,929.3L509.7,906.8L513.7,898.9L536.2,898.9L536.2,921.4L532.2,929.3ZM513.7,921.4L513.7,898.9L517.8,891.1L540.3,891.1L540.3,913.6L536.2,921.4ZM517.8,913.6L517.8,891.1L522,883.4L544.5,883.4L544.5,905.9L540.3,913.6ZM522,905.9L522,883.4L526.4,875.7L548.9,875.7L548.9,898.2L544.5,905.9ZM526.4,898.2L526.4,875.7L531,868.1L553.5,868.1L553.5,890.6L548.9,898.2ZM531,890.6L531,868.1L535.7,860.6L558.2,860.6L558.2,883.1L553.5,890.6ZM535.7,883.1L535.7,860.6L540.6,853.2L563.1,853.2L563.1,875.7L558.2,883.1ZM540.6,875.7L540.6,853.2L545.8,845.9L568.3,845.9L568.3,868.4L563.1,875.7ZM545.8,868.4L545.8,845.9L551.2,838.7L573.7,838.7L573.7,861.2L568.3,868.4ZM551.2,861.2L551.2,838.7L556.7,831.6L579.2,831.6L579.2,854.1L573.7,861.2ZM556.7,854.1L556.7,831.6L562.3,824.7L584.8,824.7L584.8,847.2L579.2,854.1ZM562.3,847.2L562.3,824.7L568.1,817.9L590.6,817.9L590.6,840.4L584.8,847.2ZM568.1,840.4L568.1,817.9L574,811.2L596.5,811.2L596.5,833.7L590.6,840.4ZM574,833.7L574,811.2L580,804.7L602.5,804.7L602.5,827.2L596.5,833.7ZM580,827.2L580,804.7L586.2,798.3L608.7,798.3L608.7,820.8L602.5,827.2ZM586.2,820.8L586.2,798.3L592.5,792L615,792L615,814.5L608.7,820.8ZM592.5,814.5L592.5,792L598.8,785.9L621.3,785.9L621.3,808.4L615,814.5ZM598.8,808.4L598.8,785.9L605.3,779.8L627.8,779.8L627.8,802.3L621.3,808.4ZM605.3,802.3L605.3,779.8L611.9,773.9L634.4,773.9L634.4,796.4L627.8,802.3ZM611.9,796.4L611.9,773.9L618.6,768.1L641.1,768.1L641.1,790.6L634.4,796.4ZM618.6,790.6L618.6,768.1L625.4,762.4L647.9,762.4L647.9,784.9L641.1,790.6ZM625.4,784.9L625.4,762.4L632.3,756.9L654.8,756.9L654.8,779.4L647.9,784.9ZM632.3,779.4L632.3,756.9L639.3,751.4L661.8,751.4L661.8,773.9L654.8,779.4ZM639.3,773.9L639.3,751.4L646.3,746.1L668.8,746.1L668.8,768.6L661.8,773.9ZM646.3,768.6L646.3,746.1L653.5,740.8L676,740.8L676,763.3L668.8,768.6ZM653.5,763.3L653.5,740.8L660.7,735.7L683.2,735.7L683.2,758.2L676,763.3ZM660.7,758.2L660.7,735.7L668,730.6L690.5,730.6L690.5,753.1L683.2,758.2ZM668,753.1L668,730.6L675.4,725.7L697.9,725.7L697.9,748.2L690.5,753.1ZM675.4,748.2L675.4,725.7L682.9,720.8L705.4,720.8L705.4,743.3L697.9,748.2ZM682.9,743.3L682.9,720.8L690.4,716.1L712.9,716.1L712.9,738.6L705.4,743.3ZM690.4,738.6L690.4,716.1L698,711.4L720.5,711.4L720.5,733.9L712.9,738.6ZM698,733.9L698,711.4L705.6,706.9L728.1,706.9L728.1,729.4L720.5,733.9ZM705.6,729.4L705.6,706.9L713.3,702.4L735.8,702.4L735.8,724.9L728.1,729.4ZM713.3,724.9L713.3,702.4L721.1,698L743.6,698L743.6,720.5L735.8,724.9ZM721.1,720.5L721.1,698L728.9,693.7L751.4,693.7L751.4,716.2L743.6,720.5ZM728.9,716.2L728.9,693.7L736.7,689.4L759.2,689.4L759.2,711.9L751.4,716.2ZM736.7,711.9L736.7,689.4L744.6,685.3L767.1,685.3L767.1,707.8L759.2,711.9ZM744.6,707.8L744.6,685.3L752.6,681.2L775.1,681.2L775.1,703.7L767.1,707.8ZM752.6,703.7L752.6,681.2L760.6,677.2L783.1,677.2L783.1,699.7L775.1,703.7ZM760.6,699.7L760.6,677.2L768.6,673.3L791.1,673.3L791.1,695.8L783.1,699.7ZM768.6,695.8L768.6,673.3L776.6,669.4L799.1,669.4L799.1,691.9L791.1,695.8ZM776.6,691.9L776.6,669.4L784.7,665.7L807.2,665.7L807.2,688.2L799.1,691.9ZM784.7,688.2L784.7,665.7L792.8,661.9L815.3,661.9L815.3,684.4L807.2,688.2ZM792.8,684.4L792.8,661.9L800.9,658.3L823.4,658.3L823.4,680.8L815.3,684.4ZM800.9,680.8L800.9,658.3L809,654.7L831.5,654.7L831.5,677.2L823.4,680.8ZM809,677.2L809,654.7L817.2,651.2L839.7,651.2L839.7,673.7L831.5,677.2ZM817.2,673.7L817.2,651.2L825.4,647.7L847.9,647.7L847.9,670.2L839.7,673.7ZM825.4,670.2L825.4,647.7L833.6,644.3L856.1,644.3L856.1,666.8L847.9,670.2ZM833.6,666.8L833.6,644.3L841.9,641L864.4,641L864.4,663.5L856.1,666.8ZM841.9,663.5L841.9,641L850.1,637.7L872.6,637.7L872.6,660.2L864.4,663.5ZM850.1,660.2L850.1,637.7L858.4,634.5L880.9,634.5L880.9,657L872.6,660.2ZM858.4,657L858.4,634.5L866.7,631.3L889.2,631.3L889.2,653.8L880.9,657ZM866.7,653.8L866.7,631.3L875.1,628.2L897.6,628.2L897.6,650.7L889.2,653.8ZM875.1,650.7L875.1,628.2L883.4,625.2L905.9,625.2L905.9,647.7L897.6,650.7ZM883.4,647.7L883.4,625.2L891.8,622.2L914.3,622.2L914.3,644.7L905.9,647.7ZM891.8,644.7L891.8,622.2L900.2,619.2L922.7,619.2L922.7,641.7L914.3,644.7ZM900.2,641.7L900.2,619.2L908.6,616.3L931.1,616.3L931.1,638.8L922.7,641.7ZM908.6,638.8L908.6,616.3L917,613.4L939.5,613.4L939.5,635.9L931.1,638.8ZM917,635.9L917,613.4L925.5,610.6L948,610.6L948,633.1L939.5,635.9ZM925.5,633.1L925.5,610.6L933.9,607.9L956.4,607.9L956.4,630.4L948,633.1ZM933.9,630.4L933.9,607.9L942.4,605.2L964.9,605.2L964.9,627.7L956.4,630.4ZM942.4,627.7L942.4,605.2L950.9,602.5L973.4,602.5L973.4,625L964.9,627.7ZM950.9,625L950.9,602.5L959.4,599.9L981.9,599.9L981.9,622.4L973.4,625ZM959.4,622.4L959.4,599.9L967.9,597.3L990.4,597.3L990.4,619.8L981.9,622.4ZM967.9,619.8L967.9,597.3L976.4,594.7L998.9,594.7L998.9,617.2L990.4,619.8ZM976.4,617.2L976.4,594.7L985,592.2L1007.5,592.2L1007.5,614.7L998.9,617.2ZM985,614.7L985,592.2L993.5,589.7L1016,589.7L1016,612.2L1007.5,614.7ZM993.5,612.2L993.5,589.7L1002.1,587.3L1024.6,587.3L1024.6,609.8L1016,612.2ZM1002.1,609.8L1002.1,587.3L1010.7,584.9L1033.2,584.9L1033.2,607.4L1024.6,609.8ZM1010.7,607.4L1010.7,584.9L1019.2,582.5L1041.7,582.5L1041.7,605L1033.2,607.4ZM1019.2,605L1019.2,582.5L1027.8,580.2L1050.3,580.2L1050.3,602.7L1041.7,605ZM1027.8,602.7L1027.8,580.2L1036.4,577.9L1058.9,577.9L1058.9,600.4L1050.3,602.7ZM1036.4,600.4L1036.4,577.9L1045,575.6L1067.5,575.6L1067.5,598.1L1058.9,600.4ZM1045,598.1L1045,575.6L1053.7,573.4L1076.2,573.4L1076.2,595.9L1067.5,598.1ZM1053.7,595.9L1053.7,573.4L1062.3,571.1L1084.8,571.1L1084.8,593.6L1076.2,595.9ZM1062.3,593.6L1062.3,571.1L1070.9,568.9L1093.4,568.9L1093.4,591.4L1084.8,593.6ZM1070.9,591.4L1070.9,568.9L1079.5,566.8L1102,566.8L1102,589.3L1093.4,591.4ZM1079.5,589.3L1079.5,566.8L1088.2,564.6L1110.7,564.6L1110.7,587.1L1102,589.3ZM1088.2,587.1L1088.2,564.6L1096.8,562.5L1119.3,562.5L1119.3,585L1110.7,587.1ZM1096.8,585L1096.8,562.5L1105.4,560.4L1127.9,560.4L1127.9,582.9L1119.3,585ZM1105.4,582.9L1105.4,560.4L1114.1,558.3L1136.6,558.3L1136.6,580.8L1127.9,582.9ZM1114.1,580.8L1114.1,558.3L1122.7,556.2L1145.2,556.2L1145.2,578.7L1136.6,580.8ZM1122.7,578.7L1122.7,556.2L1131.4,554.1L1153.9,554.1L1153.9,576.6L1145.2,578.7ZM1131.4,576.6L1131.4,554.1L1140,552.1L1162.5,552.1L1162.5,574.6L1153.9,576.6ZM1140,574.6L1140,552.1L1148.6,550.1L1171.1,550.1L1171.1,572.6L1162.5,574.6Z"/>
<path d="M1152,550L1160,548L1175.1,544.3L1190,543.6L1216,543.6L1216,539.1L1249.2,539.1L1249.2,534.9L1299.4,533.7L1299.4,531.3L1335.1,531.3L1335.1,556.7L1264.8,557.6L1264.8,561.7L1248.8,561.7L1248.8,563.3L1227,563.3L1227,568.3L1182.5,569.3L1182.5,572.6L1160,576.5L1152,578 Z"/>
<path d="M234.9,1494.3h22.5v22.5h-22.5ZM234.9,1467.5h22.5v22.5h-22.5ZM246.8,1450.2h22.5v22.5h-22.5ZM257.4,1442h22.5v22.5h-22.5ZM267.8,1440.8h22.5v22.5h-22.5ZM278.8,1437h22.5v22.5h-22.5ZM290.8,1405.2h22.5v22.5h-22.5ZM300.9,1367.8h22.5v22.5h-22.5ZM312.4,1343.5h22.5v22.5h-22.5Z"/>
<path d="M246.2,1478.8L258,1461.4L268.6,1453.3L279,1452L290,1448.3L302,1416.5L312.2,1379L323.7,1354.8" fill="none" stroke="#0000ff" stroke-width="10.5" stroke-linejoin="round"/>
</g>
<text x="227.5" y="1527.4" font-size="74.5" text-anchor="end" textLength="36.3" lengthAdjust="spacingAndGlyphs">0</text>
<text x="227.5" y="1234.7" font-size="74.5" text-anchor="end" textLength="108.9" lengthAdjust="spacingAndGlyphs">100</text>
<text x="227.5" y="942.1" font-size="74.5" text-anchor="end" textLength="108.9" lengthAdjust="spacingAndGlyphs">200</text>
<text x="227.5" y="649.4" font-size="74.5" text-anchor="end" textLength="108.9" lengthAdjust="spacingAndGlyphs">300</text>
<text x="227.5" y="356.8" font-size="74.5" text-anchor="end" textLength="108.9" lengthAdjust="spacingAndGlyphs">400</text>
<text x="227.5" y="64.1" font-size="74.5" text-anchor="end" textLength="108.9" lengthAdjust="spacingAndGlyphs">500</text>
<text x="247.1" y="1581.5" font-size="74.5" text-anchor="middle" textLength="36.3" lengthAdjust="spacingAndGlyphs">0</text>
<text x="577.6" y="1581.5" font-size="74.5" text-anchor="middle" textLength="36.3" lengthAdjust="spacingAndGlyphs">5</text>
<text x="908.1" y="1581.5" font-size="74.5" text-anchor="middle" textLength="72.6" lengthAdjust="spacingAndGlyphs">10</text>
<text x="1238.5" y="1581.5" font-size="74.5" text-anchor="middle" textLength="72.6" lengthAdjust="spacingAndGlyphs">15</text>
<text x="1569" y="1581.5" font-size="74.5" text-anchor="middle" textLength="72.6" lengthAdjust="spacingAndGlyphs">20</text>
<text x="1899.5" y="1581.5" font-size="74.5" text-anchor="middle" textLength="72.6" lengthAdjust="spacingAndGlyphs">25</text>
<text x="931.5" y="1659" font-size="74.5" text-anchor="start" textLength="315.5" lengthAdjust="spacingAndGlyphs">Strain(%)</text>
<text transform="translate(65,915.4) rotate(-90)" font-size="74.5" text-anchor="start" textLength="403.5" lengthAdjust="spacingAndGlyphs">Stress (MPa)</text>
<path d="M788,124.4H931.5" fill="none" stroke="#555555" stroke-width="10" stroke-linecap="round"/>
<rect x="848" y="112.9" width="23" height="23" fill="#555555"/>
<text x="969.3" y="150.9" font-size="74.5" text-anchor="start" textLength="549" lengthAdjust="spacingAndGlyphs">AZ80F-250 in Air</text>
<path d="M788,214.7H931.5" fill="none" stroke="#ff0000" stroke-width="10" stroke-linecap="round"/>
<rect x="848" y="203.2" width="23" height="23" fill="#ff0000"/>
<text x="969.3" y="241.2" font-size="74.5" text-anchor="start" textLength="690" lengthAdjust="spacingAndGlyphs">AZ80F-250 in solution</text>
<path d="M788,304.9H931.5" fill="none" stroke="#00ff00" stroke-width="10" stroke-linecap="round"/>
<rect x="848" y="293.4" width="23" height="23" fill="#00ff00"/>
<text x="969.3" y="331.4" font-size="74.5" text-anchor="start" textLength="908.5" lengthAdjust="spacingAndGlyphs">AZ80F-250+MAO in solution</text>
<path d="M788,395.1H931.5" fill="none" stroke="#0000ff" stroke-width="10" stroke-linecap="round"/>
<rect x="848" y="383.6" width="23" height="23" fill="#0000ff"/>
<text x="969.3" y="421.6" font-size="74.5" text-anchor="start" textLength="904" lengthAdjust="spacingAndGlyphs">AZ80F-250+MCC in solution</text>
</svg>
</body></html>
